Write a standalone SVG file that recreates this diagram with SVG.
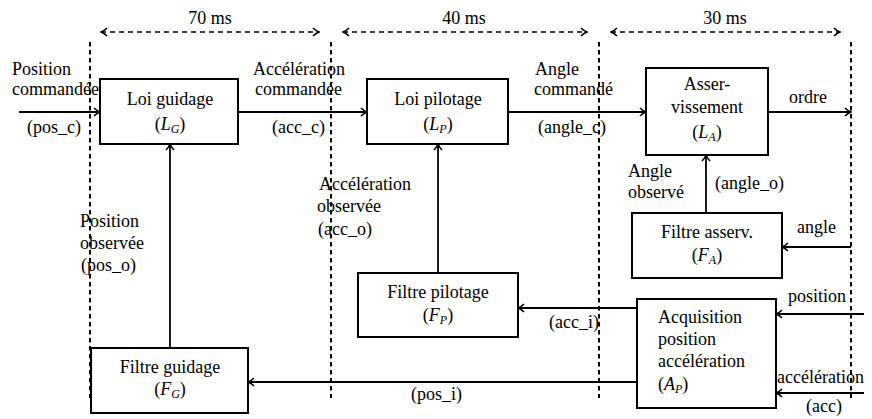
<svg xmlns="http://www.w3.org/2000/svg" width="872" height="419" viewBox="0 0 872 419">
<style>
.box{fill:#fff;stroke:#000;stroke-width:2}
.ln{fill:none;stroke:#000;stroke-width:1.8;marker-end:url(#ah)}
.dv{fill:none;stroke:#000;stroke-width:2;stroke-dasharray:4.5 3.5}
.dh{fill:none;stroke:#000;stroke-width:1.6;stroke-dasharray:5 4;marker-start:url(#ah2);marker-end:url(#ah)}
</style>
<defs>
<marker id="ah" viewBox="0 0 10 10" refX="9" refY="5" markerWidth="10" markerHeight="10" markerUnits="userSpaceOnUse" orient="auto">
<path d="M3,1 Q6,4 9,5 Q6,6 3,9" fill="none" stroke="#000" stroke-width="1.6"/>
</marker>
<marker id="ah2" viewBox="0 0 10 10" refX="1" refY="5" markerWidth="10" markerHeight="10" markerUnits="userSpaceOnUse" orient="auto">
<path d="M7,1 Q4,4 1,5 Q4,6 7,9" fill="none" stroke="#000" stroke-width="1.6"/>
</marker>
</defs>
<g id="timing">
<path class="dv" d="M90,42V398M331,42V398M599,42V398M851,42V398"/>
<path class="dh" d="M101,32H319"/>
<path class="dh" d="M343,32H587"/>
<path class="dh" d="M611,32H840"/>
<text x="210" y="24" text-anchor="middle" style="font-family:'Liberation Serif';font-size:18px">70 ms</text>
<text x="464" y="24" text-anchor="middle" style="font-family:'Liberation Serif';font-size:18px">40 ms</text>
<text x="725" y="24" text-anchor="middle" style="font-family:'Liberation Serif';font-size:18px">30 ms</text>
</g>
<g id="connectors">
<path class="ln" d="M19,112H100"/>
<path class="ln" d="M238,112H367"/>
<path class="ln" d="M508,112H646"/>
<path class="ln" d="M768,112H851"/>
<path class="ln" d="M170,348V144"/>
<path class="ln" d="M438,273V144"/>
<path class="ln" d="M706,213V155"/>
<path class="ln" d="M851,247H782"/>
<path class="ln" d="M864,314H776"/>
<path class="ln" d="M864,393H776"/>
<path class="ln" d="M637,308H518"/>
<path class="ln" d="M637,382H248"/>
</g>
<g id="labels">
<text x="12" y="75" style="font-family:'Liberation Serif';font-size:18px">Position</text>
<text x="12" y="95" style="font-family:'Liberation Serif';font-size:18px">commandée</text>
<text x="27" y="133" style="font-family:'Liberation Serif';font-size:18px">(pos_c)</text>
<text x="253" y="75" style="font-family:'Liberation Serif';font-size:18px">Accélération</text>
<text x="255" y="95" style="font-family:'Liberation Serif';font-size:18px">commandée</text>
<text x="272" y="133" style="font-family:'Liberation Serif';font-size:18px">(acc_c)</text>
<text x="535" y="75" style="font-family:'Liberation Serif';font-size:18px">Angle</text>
<text x="534" y="95" style="font-family:'Liberation Serif';font-size:18px">commandé</text>
<text x="538" y="133" style="font-family:'Liberation Serif';font-size:18px">(angle_c)</text>
<text x="789" y="103" style="font-family:'Liberation Serif';font-size:18px">ordre</text>
<text x="628" y="177" style="font-family:'Liberation Serif';font-size:18px">Angle</text>
<text x="628" y="198" style="font-family:'Liberation Serif';font-size:18px">observé</text>
<text x="715" y="189" style="font-family:'Liberation Serif';font-size:18px">(angle_o)</text>
<text x="797" y="233" style="font-family:'Liberation Serif';font-size:18px">angle</text>
<text x="319" y="190" style="font-family:'Liberation Serif';font-size:18px">Accélération</text>
<text x="317" y="212" style="font-family:'Liberation Serif';font-size:18px">observée</text>
<text x="318" y="235" style="font-family:'Liberation Serif';font-size:18px">(acc_o)</text>
<text x="80" y="227" style="font-family:'Liberation Serif';font-size:18px">Position</text>
<text x="80" y="249" style="font-family:'Liberation Serif';font-size:18px">observée</text>
<text x="81" y="271" style="font-family:'Liberation Serif';font-size:18px">(pos_o)</text>
<text x="549" y="328" style="font-family:'Liberation Serif';font-size:18px">(acc_i)</text>
<text x="788" y="302" style="font-family:'Liberation Serif';font-size:18px">position</text>
<text x="777" y="383" style="font-family:'Liberation Serif';font-size:18px">accélération</text>
<text x="806" y="412" style="font-family:'Liberation Serif';font-size:18px">(acc)</text>
<text x="411" y="400" style="font-family:'Liberation Serif';font-size:18px">(pos_i)</text>
</g>
<g id="LG">
<rect class="box" x="100" y="79" width="138" height="65"/>
<text x="170" y="105" text-anchor="middle" style="font-family:'Liberation Serif';font-size:18px">Loi guidage</text>
<text x="170" y="130" text-anchor="middle" style="font-family:'Liberation Serif';font-size:18px">(<tspan font-style="italic">L</tspan><tspan font-style="italic" font-size="12" dy="3">G</tspan><tspan dy="-3">)</tspan></text>
</g>
<g id="LP">
<rect class="box" x="367" y="79" width="141" height="65"/>
<text x="438" y="105" text-anchor="middle" style="font-family:'Liberation Serif';font-size:18px">Loi pilotage</text>
<text x="438" y="130" text-anchor="middle" style="font-family:'Liberation Serif';font-size:18px">(<tspan font-style="italic">L</tspan><tspan font-style="italic" font-size="12" dy="3">P</tspan><tspan dy="-3">)</tspan></text>
</g>
<g id="LA">
<rect class="box" x="646" y="68" width="122" height="87"/>
<text x="707" y="90" text-anchor="middle" style="font-family:'Liberation Serif';font-size:18px">Asser-</text>
<text x="707" y="113" text-anchor="middle" style="font-family:'Liberation Serif';font-size:18px">vissement</text>
<text x="707" y="138" text-anchor="middle" style="font-family:'Liberation Serif';font-size:18px">(<tspan font-style="italic">L</tspan><tspan font-style="italic" font-size="12" dy="3">A</tspan><tspan dy="-3">)</tspan></text>
</g>
<g id="FA">
<rect class="box" x="632" y="213" width="150" height="65"/>
<text x="707" y="238" text-anchor="middle" style="font-family:'Liberation Serif';font-size:18px">Filtre asserv.</text>
<text x="707" y="261" text-anchor="middle" style="font-family:'Liberation Serif';font-size:18px">(<tspan font-style="italic">F</tspan><tspan font-style="italic" font-size="12" dy="3">A</tspan><tspan dy="-3">)</tspan></text>
</g>
<g id="FP">
<rect class="box" x="358" y="273" width="160" height="64"/>
<text x="438" y="298" text-anchor="middle" style="font-family:'Liberation Serif';font-size:18px">Filtre pilotage</text>
<text x="438" y="321" text-anchor="middle" style="font-family:'Liberation Serif';font-size:18px">(<tspan font-style="italic">F</tspan><tspan font-style="italic" font-size="12" dy="3">P</tspan><tspan dy="-3">)</tspan></text>
</g>
<g id="AP">
<rect class="box" x="637" y="299" width="139" height="109"/>
<text x="658" y="323" style="font-family:'Liberation Serif';font-size:18px">Acquisition</text>
<text x="658" y="345" style="font-family:'Liberation Serif';font-size:18px">position</text>
<text x="658" y="367" style="font-family:'Liberation Serif';font-size:18px">accélération</text>
<text x="658" y="390" style="font-family:'Liberation Serif';font-size:18px">(<tspan font-style="italic">A</tspan><tspan font-style="italic" font-size="12" dy="3">P</tspan><tspan dy="-3">)</tspan></text>
</g>
<g id="FG">
<rect class="box" x="91" y="348" width="157" height="65"/>
<text x="170" y="373" text-anchor="middle" style="font-family:'Liberation Serif';font-size:18px">Filtre guidage</text>
<text x="170" y="395" text-anchor="middle" style="font-family:'Liberation Serif';font-size:18px">(<tspan font-style="italic">F</tspan><tspan font-style="italic" font-size="12" dy="3">G</tspan><tspan dy="-3">)</tspan></text>
</g>
</svg>
